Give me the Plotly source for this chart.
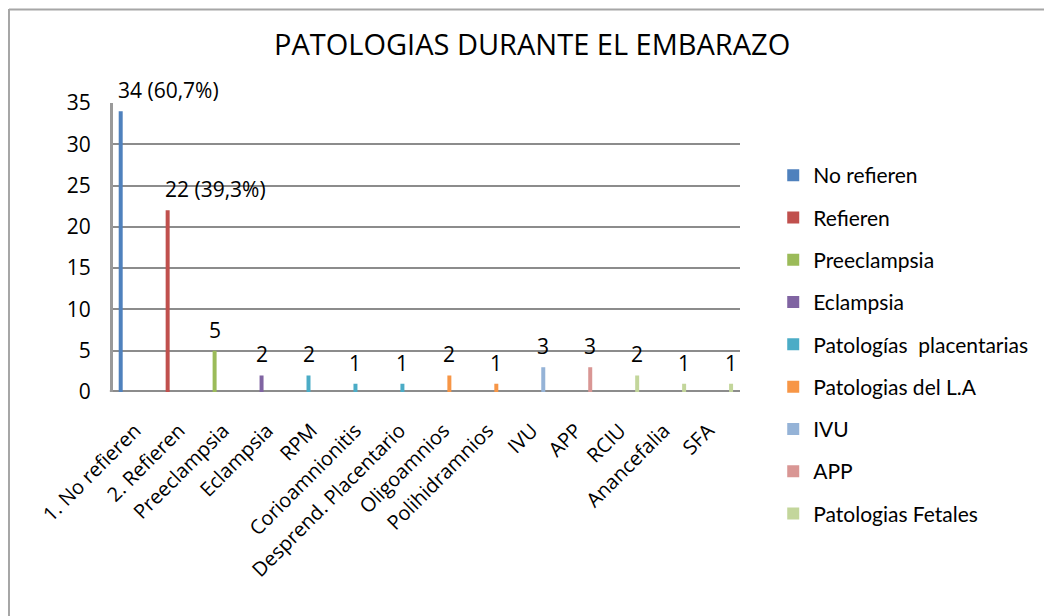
import plotly.graph_objects as go

# categories on the x axis and their counts
categorias = ["1. No refieren", "2. Refieren", "Preeclampsia", "Eclampsia", "RPM",
              "Corioamnionitis", "Desprend. Placentario", "Oligoamnios", "Polihidramnios",
              "IVU", "APP", "RCIU", "Anancefalia", "SFA"]
valores = [34, 22, 5, 2, 2, 1, 1, 2, 1, 3, 3, 2, 1, 1]
etiquetas = ["34 (60,7%)", "22 (39,3%)", "5", "2", "2", "1", "1", "2", "1", "3", "3", "2", "1", "1"]

# legend series and which categories belong to them
series = ["No refieren", "Refieren", "Preeclampsia", "Eclampsia", "Patologías  placentarias",
          "Patologias del L.A", "IVU", "APP", "Patologias Fetales"]
grupo = [0, 1, 2, 3, 4, 4, 4, 5, 5, 6, 7, 8, 8, 8]
colores = ["#4F81BD", "#C0504D", "#9BBB59", "#8064A2", "#4BACC6",
           "#F79646", "#95B3D7", "#D99694", "#C3D69B"]

fig = go.Figure()
for s, nombre in enumerate(series):
    xs = [c for c, g in zip(categorias, grupo) if g == s]
    ys = [v for v, g in zip(valores, grupo) if g == s]
    fig.add_trace(go.Bar(
        x=xs, y=ys, name=nombre, width=0.085,
        marker=dict(color=colores[s], line=dict(width=0)),
        legendgroup=nombre,
    ))

# the 3d-perspective category labels sit on a slightly tighter spacing than the bars,
# so they go on an overlaid axis of their own
fig.add_trace(go.Scatter(
    x=list(range(len(categorias))), y=valores, xaxis="x2", mode="none",
    showlegend=False, hoverinfo="skip",
))

# value labels above bars
for c, v, t in zip(categorias, valores, etiquetas):
    largo = len(t) > 2
    fig.add_annotation(
        x=c, y=v, text=t, showarrow=False,
        xanchor="left" if largo else "center",
        xshift=-5 if largo else 0,
        yanchor="middle", yshift=21,
        font=dict(family="Open Sans", size=21, color="#000000"),
    )

# outer frame (left and top edges visible)
gris = "#a6a6a6"
fig.add_shape(type="line", xref="paper", yref="paper", x0=-0.1659, x1=-0.1659,
              y0=1.325, y1=-0.78, line=dict(color=gris, width=2))
fig.add_shape(type="line", xref="paper", yref="paper", x0=-0.1659, x1=1.5,
              y0=1.3235, y1=1.3235, line=dict(color=gris, width=2))
# floor
fig.add_shape(type="line", xref="paper", yref="y", x0=-0.005, x1=1.0, y0=0, y1=0,
              line=dict(color="#8c8c8c", width=4), layer="below")

fig.update_layout(
    width=1044, height=608,
    margin=dict(l=105, r=312, t=95, b=224),
    paper_bgcolor="white", plot_bgcolor="white",
    barmode="overlay",
    title=dict(text="PATOLOGIAS DURANTE EL EMBARAZO", x=0.502, xanchor="center",
               y=0.939, yanchor="middle",
               font=dict(family="Open Sans", size=29, color="#000000")),
    legend=dict(x=1.053, y=0.82, xanchor="left", yanchor="top",
                font=dict(family="Lato", size=21, color="#000000"),
                tracegroupgap=12, itemclick=False, maxheight=500),
    showlegend=True,
    xaxis2=dict(
        overlaying="x", anchor="y", side="bottom", range=[-0.5, 13.72],
        tickmode="array", tickvals=list(range(len(categorias))), ticktext=categorias,
        tickangle=-45, showgrid=False, zeroline=False, showline=False, ticks="",
        ticklabelstandoff=22,
        tickfont=dict(family="Open Sans", size=20, color="#000000"),
    ),
)
fig.layout.xaxis.update(
    range=[-0.164, 13.19], showgrid=False, showline=False, ticks="",
    showticklabels=False,
)
fig.update_yaxes(
    range=[0, 35], dtick=5, showgrid=True, gridcolor="#8c8c8c", gridwidth=2,
    zeroline=False, showline=True, linecolor="#9a9a9a", linewidth=3,
    ticks="", ticklabelstandoff=15,
    tickfont=dict(family="Open Sans", size=21, color="#000000"),
)

fig.write_html("out.html")
